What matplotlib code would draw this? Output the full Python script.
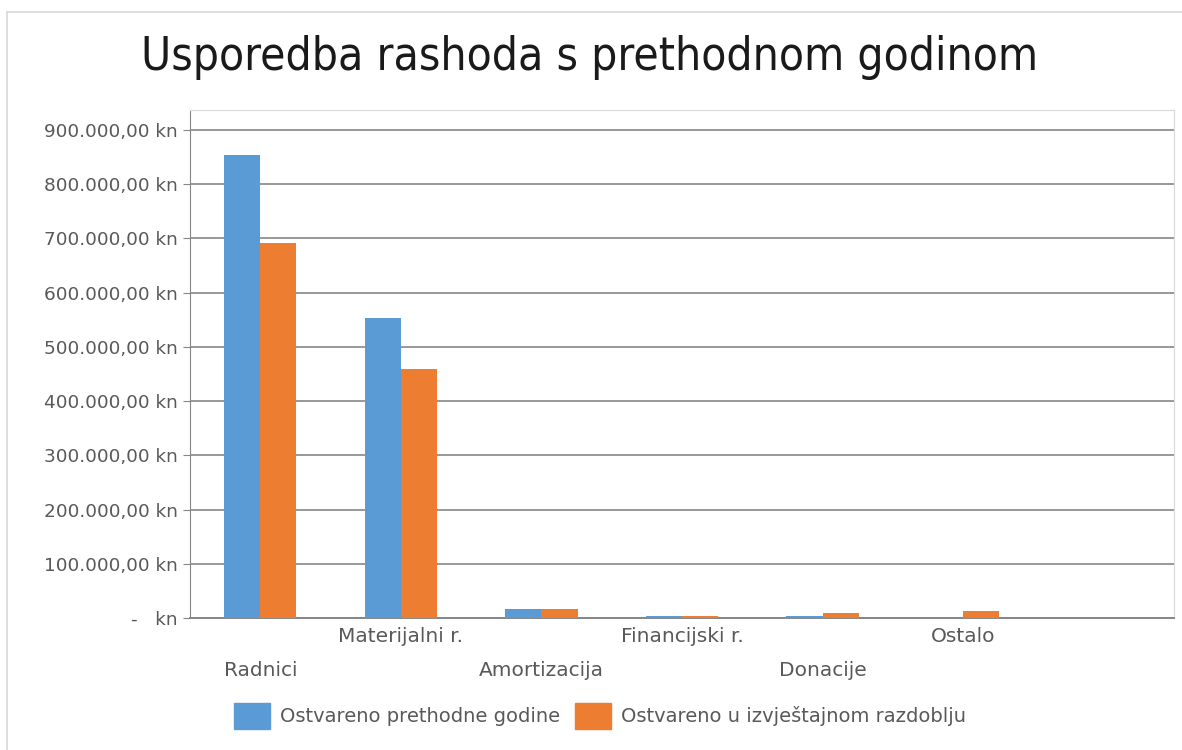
import numpy as np
import matplotlib
matplotlib.use("Agg")
import matplotlib.pyplot as plt
from matplotlib.patches import Patch
from matplotlib.lines import Line2D
from matplotlib.ticker import FuncFormatter, MultipleLocator

# data (kn)
categories = ["Radnici", "Materijalni r.", "Amortizacija", "Financijski r.", "Donacije", "Ostalo", ""]
prethodne = [854000, 553000, 16000, 4000, 4000, 0, 0]
izvjestajno = [692000, 459000, 16000, 4000, 9000, 13000, 0]
series_names = ["Ostvareno prethodne godine", "Ostvareno u izvještajnom razdoblju"]

BLUE = "#5B9BD5"
ORANGE = "#ED7D31"

plt.rcParams["font.family"] = "DejaVu Sans"

fig = plt.figure(figsize=(11.82, 7.5), dpi=100)
ax = fig.add_axes([190/1182, 1-618/750, (1174-190)/1182, (618-110)/750])

x = np.arange(len(categories))
w = 0.257
ax.bar(x - w/2, prethodne, w, color=BLUE, zorder=3)
ax.bar(x + w/2, izvjestajno, w, color=ORANGE, zorder=3)

ax.set_xlim(-0.5, len(categories) - 0.5)
ax.set_ylim(0, 900000 * 508 / 488)
ax.yaxis.set_major_locator(MultipleLocator(100000))

def kn(v, pos):
    if v == 0:
        return "-   kn"
    s = f"{v:,.2f}".replace(",", "X").replace(".", ",").replace("X", ".")
    return s + " kn"

ax.yaxis.set_major_formatter(FuncFormatter(kn))
ax.tick_params(axis="y", direction="out", length=5, color="#868686",
               labelsize=13.3, labelcolor="#595959", pad=4)
ax.tick_params(axis="x", length=0, labelbottom=False)
ax.grid(axis="y", color="#868686", linewidth=1.2, zorder=0)

for side in ["top", "right"]:
    ax.spines[side].set_color("#d9d9d9")
ax.spines["left"].set_color("#868686")
ax.spines["bottom"].set_color("#868686")
ax.spines["bottom"].set_linewidth(1.4)

# staggered category labels
for i, c in enumerate(categories):
    yy = -0.1024 if i % 2 == 0 else -0.0374
    ax.text(i, yy, c, transform=ax.get_xaxis_transform(), ha="center", va="center",
            fontsize=14.5, color="#595959")

fig.text(590/1182, 1-58/750, "Usporedba rashoda s prethodnom godinom",
         ha="center", va="center", fontsize=33, color="#1a1a1a", fontstretch="condensed")

handles = [Patch(color=BLUE, label=series_names[0]), Patch(color=ORANGE, label=series_names[1])]
fig.legend(handles=handles, loc="center", bbox_to_anchor=(600/1182, 1-716/750), ncol=2,
           frameon=False, fontsize=14, labelcolor="#595959",
           handlelength=1.85, handleheight=1.68, handletextpad=0.52, columnspacing=0.72)

# outer chart border
fig.add_artist(Line2D([7/1182, 1], [1-12/750, 1-12/750], color="#d9d9d9", lw=1.2))
fig.add_artist(Line2D([7/1182, 7/1182], [0, 1-12/750], color="#d9d9d9", lw=1.2))

fig.savefig("out.png", dpi=100, facecolor="white")
